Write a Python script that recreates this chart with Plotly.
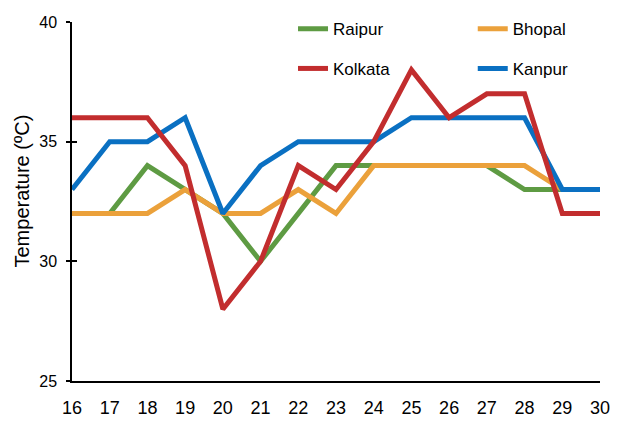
import plotly.graph_objects as go

days = [16, 17, 18, 19, 20, 21, 22, 23, 24, 25, 26, 27, 28, 29, 30]
raipur = [32, 32, 34, 33, 32, 30, 32, 34, 34, 34, 34, 34, 33, 33, 33]
bhopal = [32, 32, 32, 33, 32, 32, 33, 32, 34, 34, 34, 34, 34, 33, 33]
kolkata = [36, 36, 36, 34, 28, 30, 34, 33, 35, 38, 36, 37, 37, 32, 32]
kanpur = [33, 35, 35, 36, 32, 34, 35, 35, 35, 36, 36, 36, 36, 33, 33]
y_ticks = [25, 30, 35, 40]
y_title = "Temperature (ºC)"

FONT = "Liberation Sans Narrow, Arial Narrow, Liberation Sans, Arial"

fig = go.Figure()
series = [
    ("Raipur", raipur, "#5E9B43", "legend"),
    ("Bhopal", bhopal, "#EBA13B", "legend2"),
    ("Kanpur", kanpur, "#0A70C2", "legend4"),
    ("Kolkata", kolkata, "#C22D2E", "legend3"),
]
for name, vals, col, lg in series:
    fig.add_trace(go.Scatter(x=days, y=vals, name=name, mode="lines",
                             line=dict(color=col, width=5), legend=lg))

# invisible trace for overlay axis giving crossing ticks
fig.add_trace(go.Scatter(x=[16], y=[25], yaxis="y2", showlegend=False,
                         mode="markers", marker=dict(opacity=0), hoverinfo="skip"))

leg_common = dict(font=dict(family=FONT, size=17, color="#000"),
                  bgcolor="rgba(0,0,0,0)", xanchor="left", yanchor="middle",
                  itemwidth=30)
fig.update_layout(
    width=626, height=428,
    margin=dict(l=72, r=26, t=21, b=47),
    plot_bgcolor="white", paper_bgcolor="white",
    legend=dict(x=0.4186, y=0.977, **leg_common),
    legend2=dict(x=0.759, y=0.977, **leg_common),
    legend3=dict(x=0.4186, y=0.867, **leg_common),
    legend4=dict(x=0.759, y=0.867, **leg_common),
    xaxis=dict(range=[16, 30], tickvals=days, ticks="", showgrid=False,
               zeroline=False, showline=True, linecolor="black", linewidth=1.5,
               automargin=False,
               tickfont=dict(family=FONT, size=18, color="#000"), ticklabelstandoff=10),
    yaxis=dict(range=[25, 40], tickvals=y_ticks, ticks="outside", ticklen=4,
               tickwidth=1.5, tickcolor="black", showgrid=False, zeroline=False,
               showline=True, linecolor="black", linewidth=1.5, automargin=False,
               ticklabelstandoff=6,
               tickfont=dict(family=FONT, size=16, color="#000")),
    yaxis2=dict(range=[25, 40], tickvals=y_ticks, overlaying="y", side="left",
                ticks="inside", ticklen=5, tickwidth=1.5, tickcolor="black",
                showticklabels=False, showgrid=False, zeroline=False, showline=False,
                automargin=False),
    annotations=[dict(text=y_title, xref="paper", yref="paper",
                      x=(22 - 72) / 528, y=(381 - 191) / 360, textangle=-90,
                      showarrow=False, xanchor="center", yanchor="middle",
                      font=dict(family="Liberation Sans, Arial", size=20, color="#000"))],
)

fig.write_html("out.html", config={"displayModeBar": False},
               post_script="document.body.style.margin='0';")
